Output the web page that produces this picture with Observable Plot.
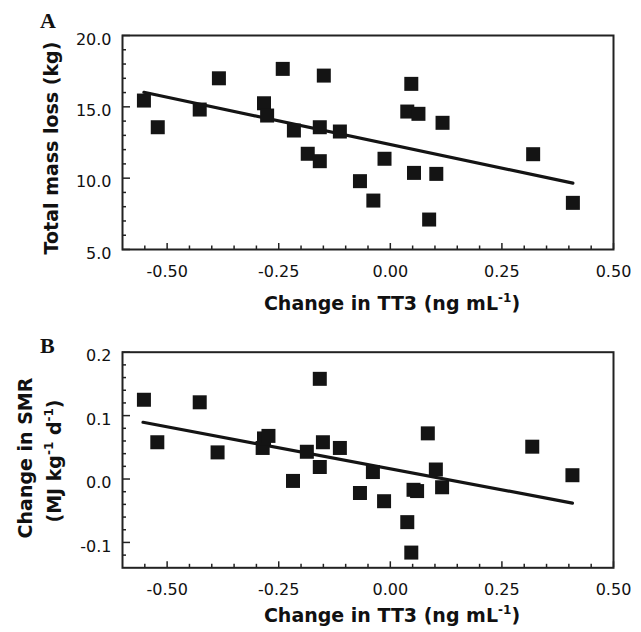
<!DOCTYPE html>
<html><head><meta charset="utf-8">
<script src="https://cdn.jsdelivr.net/npm/d3@7"></script>
<script src="https://cdn.jsdelivr.net/npm/@observablehq/plot@0.6"></script>
<style>
body{margin:0;background:#fff;}
#chart{position:relative;width:641px;height:632px;background:#fff;}
#chart svg{position:absolute;left:0;}
</style></head><body><div id="chart"></div>
<script>
// shared x axis
const xDomain = [-0.6, 0.5];
const xTicksMajor = [-0.5, -0.25, 0, 0.25, 0.5];
const xTicksMinor = [-0.55, -0.45, -0.4, -0.35, -0.3, -0.2, -0.15, -0.1, -0.05, 0.05, 0.1, 0.15, 0.2, 0.3, 0.35, 0.4, 0.45];

// Panel A: total mass loss (kg)
const aX = [-0.552, -0.521, -0.427, -0.384, -0.283, -0.276, -0.241, -0.216, -0.185, -0.158, -0.158, -0.149, -0.113, -0.068, -0.038, -0.013, 0.038, 0.047, 0.053, 0.063, 0.087, 0.103, 0.117, 0.320, 0.409];
const aY = [15.44, 13.57, 14.81, 17.0, 15.25, 14.39, 17.66, 13.34, 11.71, 13.57, 11.19, 17.19, 13.27, 9.79, 8.43, 11.36, 14.67, 16.61, 10.37, 14.51, 7.10, 10.30, 13.88, 11.68, 8.27];
const aFitX = [-0.552, 0.409];
const aFitY = [16.02, 9.65];
const aYDomain = [5, 20];
const aYTicksMajor = [5, 10, 15, 20];
const aYTicksMinor = [6, 7, 8, 9, 11, 12, 13, 14, 16, 17, 18, 19];

// Panel B: change in SMR (MJ kg-1 d-1)
const bX = [-0.552, -0.522, -0.427, -0.387, -0.286, -0.283, -0.273, -0.218, -0.187, -0.158, -0.158, -0.151, -0.113, -0.068, -0.039, -0.014, 0.038, 0.047, 0.052, 0.060, 0.084, 0.102, 0.116, 0.318, 0.408];
const bY = [0.125, 0.058, 0.121, 0.042, 0.049, 0.064, 0.068, -0.003, 0.043, 0.158, 0.019, 0.058, 0.049, -0.022, 0.011, -0.035, -0.068, -0.116, -0.017, -0.019, 0.072, 0.015, -0.013, 0.051, 0.006];
const bFitX = [-0.554, 0.408];
const bFitY = [0.0895, -0.038];
const bYDomain = [-0.14, 0.2];
const bYTicksMajor = [-0.1, 0, 0.1, 0.2];
const bYTicksMinor = [-0.12, -0.08, -0.06, -0.04, -0.02, 0.02, 0.04, 0.06, 0.08, 0.12, 0.14, 0.16, 0.18];

const INK = "#141414";

function panel({x, y, fitX, fitY, yDomain, yMajor, yMinor, yFormat, marginTop, marginBottom}) {
  return Plot.plot({
    width: 641, height: 316,
    marginLeft: 122, marginRight: 28, marginTop, marginBottom,
    style: {fontFamily: "DejaVu Sans", fontSize: "16px", color: "#111", background: "transparent", overflow: "visible"},
    x: {domain: xDomain},
    y: {domain: yDomain},
    marks: [
      Plot.axisX(xTicksMajor, {tickSize: 6, dy: -6, fill: "none", stroke: "#222", strokeWidth: 1.5, label: null}),
      Plot.axisX(xTicksMinor, {tickSize: 3.5, dy: -3.5, fill: "none", stroke: "#222", strokeWidth: 1.5, label: null}),
      Plot.axisX(xTicksMajor, {tickSize: 0, tickPadding: 16, tickFormat: d => d.toFixed(2), fill: "#111", label: null}),
      Plot.axisY(yMajor, {tickSize: 8, dx: 8, fill: "none", stroke: "#222", strokeWidth: 1.5, label: null}),
      Plot.axisY(yMinor, {tickSize: 4, dx: 4, fill: "none", stroke: "#222", strokeWidth: 1.5, label: null}),
      Plot.axisY(yMajor, {tickSize: 0, tickPadding: 11, dy: 4, tickFormat: yFormat, fill: "#111", label: null}),
      Plot.frame({stroke: "#222", strokeWidth: 2}),
      Plot.line(fitY, {x: fitX, y: fitY, stroke: INK, strokeWidth: 3.2}),
      Plot.dot(y, {x: x, y: y, symbol: "square", r: 7.9, fill: INK, stroke: "none"})
    ]
  });
}

const chart = document.getElementById("chart");

const svgA = panel({x: aX, y: aY, fitX: aFitX, fitY: aFitY, yDomain: aYDomain, yMajor: aYTicksMajor, yMinor: aYTicksMinor, yFormat: d => d.toFixed(1), marginTop: 35, marginBottom: 67});
svgA.style.top = "0px";
chart.appendChild(svgA);

const svgB = panel({x: bX, y: bY, fitX: bFitX, fitY: bFitY, yDomain: bYDomain, yMajor: bYTicksMajor, yMinor: bYTicksMinor, yFormat: d => d.toFixed(1), marginTop: 35.7, marginBottom: 64.7});
svgB.style.top = "316px";
chart.appendChild(svgB);

const boldFont = "DejaVu Sans";
function addXTitle(svg, yBase) {
  const t = d3.select(svg).append("text")
    .attr("x", 392).attr("y", yBase).attr("text-anchor", "middle")
    .attr("font-family", boldFont).attr("font-weight", "bold").attr("font-size", 19).attr("fill", "#111");
  t.append("tspan").text("Change in TT3 (ng mL");
  t.append("tspan").attr("font-size", 12).attr("dy", -8).text("-1");
  t.append("tspan").attr("dy", 8).text(")");
}
function addLetter(svg, letter, yBase) {
  d3.select(svg).append("text").attr("x", 40).attr("y", yBase).attr("text-anchor", "start")
    .attr("font-family", "Liberation Serif").attr("font-weight", "bold").attr("font-size", 22).attr("fill", "#111")
    .text(letter);
}

// Panel A titles
addLetter(svgA, "A", 28);
addXTitle(svgA, 310);
d3.select(svgA).append("text")
  .attr("transform", "translate(58,148) rotate(-90)").attr("text-anchor", "middle")
  .attr("font-family", boldFont).attr("font-weight", "bold").attr("font-size", 19).attr("fill", "#111")
  .text("Total mass loss (kg)");

// Panel B titles
addLetter(svgB, "B", 37);
addXTitle(svgB, 306);
d3.select(svgB).append("text")
  .attr("transform", "translate(32,142) rotate(-90)").attr("text-anchor", "middle")
  .attr("font-family", boldFont).attr("font-weight", "bold").attr("font-size", 19).attr("fill", "#111")
  .text("Change in SMR");
const l2 = d3.select(svgB).append("text")
  .attr("transform", "translate(61,145) rotate(-90)").attr("text-anchor", "middle")
  .attr("font-family", boldFont).attr("font-weight", "bold").attr("font-size", 19).attr("fill", "#111");
l2.append("tspan").text("(MJ kg");
l2.append("tspan").attr("font-size", 12).attr("dy", -8).text("-1");
l2.append("tspan").attr("dy", 8).text(" d");
l2.append("tspan").attr("font-size", 12).attr("dy", -8).text("-1");
l2.append("tspan").attr("dy", 8).text(")");
</script></body></html>
